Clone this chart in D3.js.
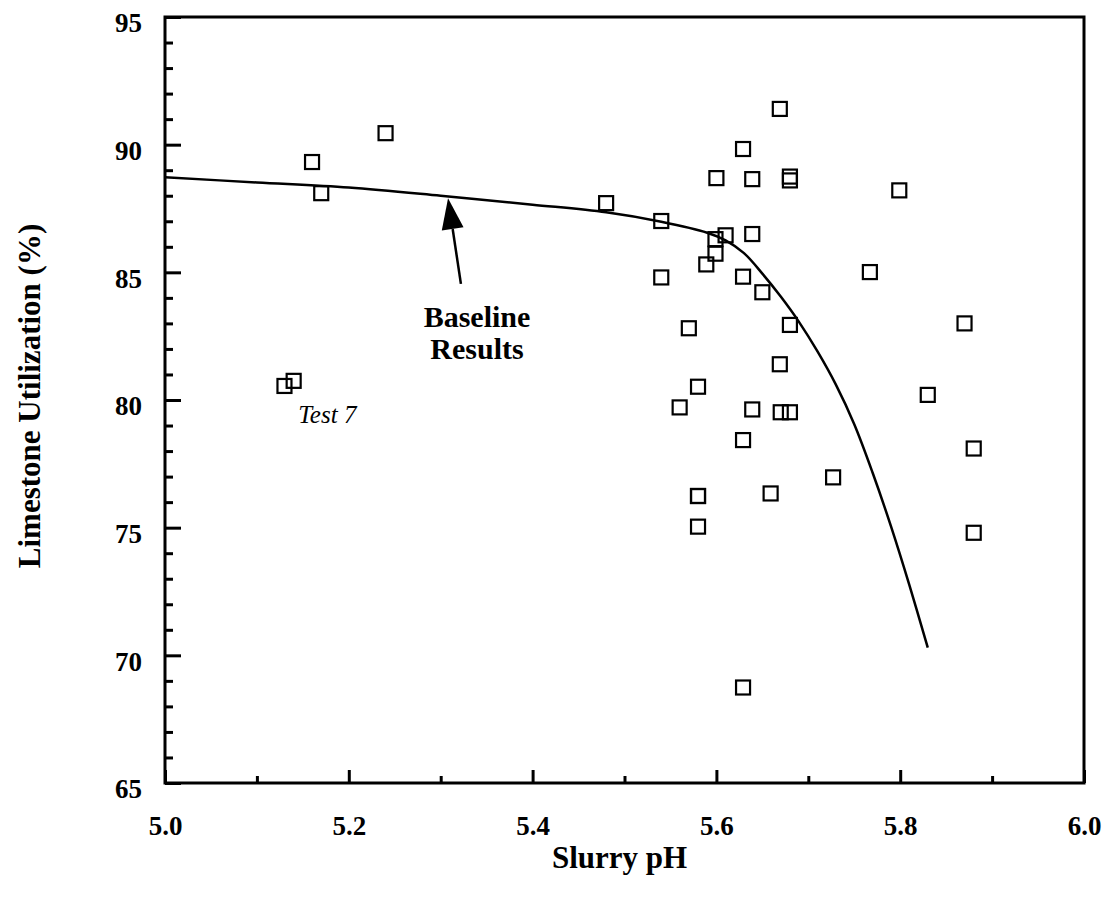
<!DOCTYPE html>
<html>
<head>
<meta charset="utf-8">
<script src="https://cdn.jsdelivr.net/npm/d3@7"></script>
<style>
  body { margin: 0; background: #fff; }
  text { font-family: "Liberation Serif", "Times New Roman", serif; fill: #000; }
</style>
</head>
<body>
<div id="graph"></div>
<script>
var w = 1108
var h = 910

// measured points (slurry pH, limestone utilization %)
var pointPH = [5.13, 5.14, 5.16, 5.17, 5.24, 5.48, 5.54, 5.54, 5.57, 5.56,
    5.58, 5.58, 5.58, 5.58, 5.589, 5.599, 5.599, 5.60, 5.61, 5.629,
    5.629, 5.629, 5.629, 5.639, 5.639, 5.639, 5.65, 5.659, 5.669, 5.669,
    5.67, 5.68, 5.68, 5.68, 5.68, 5.727, 5.767, 5.799, 5.83, 5.87,
    5.88, 5.88]
var pointUtil = [80.55, 80.75, 89.32, 88.1, 90.45, 87.71, 87.01, 84.8, 82.81, 79.71,
    80.52, 76.24, 75.04, 76.24, 85.31, 86.3, 85.73, 88.69, 86.45, 89.83,
    84.83, 78.43, 68.74, 88.65, 86.5, 79.63, 84.22, 76.34, 91.4, 81.4,
    79.52, 88.75, 88.6, 82.94, 79.52, 76.97, 85.01, 88.21, 80.2, 83.0,
    78.1, 74.8]

// fitted baseline curve
var curvePH = [5.00, 5.10, 5.20, 5.30, 5.40, 5.48, 5.54, 5.59, 5.61, 5.63,
    5.65, 5.67, 5.69, 5.71, 5.73, 5.75, 5.77, 5.79, 5.81, 5.83]
var curveUtil = [88.72, 88.52, 88.32, 88.0, 87.65, 87.35, 86.98, 86.55, 86.25, 85.75,
    84.95, 84.05, 83.05, 81.9, 80.6, 79.05, 77.15, 75.05, 72.75, 70.3]

var xTicks = [5.0, 5.2, 5.4, 5.6, 5.8, 6.0]
var xMinor = [5.1, 5.3, 5.5, 5.7, 5.9]
var yTicks = [65, 70, 75, 80, 85, 90, 95]
var yMinor = d3.range(66, 95).filter(function (d) { return d % 5 != 0 })

// plot box (window.top is reserved, so own names here)
var pLeft = 165, pTop = 17, pRight = 1084, pBottom = 783

var x = d3.scaleLinear().domain([5.0, 6.0]).range([pLeft, pRight])
var y = d3.scaleLinear().domain([65, 95]).range([pBottom, pTop])

var svg = d3.select("#graph").append("svg")
    .attr("width", w)
    .attr("height", h)

//minor ticks first, no labels
svg.append("g")
    .attr("transform", "translate(0," + pBottom + ")")
    .call(d3.axisBottom(x).tickValues(xMinor).tickSize(-7).tickFormat(""))
    .call(function (g) { g.select(".domain").remove() })
    .selectAll("line").attr("stroke-width", 3)

svg.append("g")
    .attr("transform", "translate(" + pLeft + ",0)")
    .call(d3.axisLeft(y).tickValues(yMinor).tickSize(-8).tickFormat(""))
    .call(function (g) { g.select(".domain").remove() })
    .selectAll("line").attr("stroke-width", 3)

//major ticks with labels
var xAxis = svg.append("g")
    .attr("transform", "translate(0," + pBottom + ")")
    .call(d3.axisBottom(x).tickValues(xTicks).tickSize(-13).tickFormat(d3.format(".1f")))
xAxis.select(".domain").remove()
xAxis.selectAll("line").attr("stroke-width", 3)
xAxis.selectAll("text")
    .attr("y", 52)
    .attr("dy", 0)
    .style("font-size", "27px")
    .style("font-weight", "bold")
    .style("font-family", "Liberation Serif")

var yAxis = svg.append("g")
    .attr("transform", "translate(" + pLeft + ",0)")
    .call(d3.axisLeft(y).tickValues(yTicks).tickSize(-16).tickFormat(d3.format("d")))
yAxis.select(".domain").remove()
yAxis.selectAll("line").attr("stroke-width", 3)
yAxis.selectAll("text")
    .attr("x", -23)
    .attr("dy", "0.55em")
    .style("font-size", "27px")
    .style("font-weight", "bold")
    .style("font-family", "Liberation Serif")

// frame around the plot
svg.append("rect")
    .attr("x", pLeft)
    .attr("y", pTop)
    .attr("width", pRight - pLeft)
    .attr("height", pBottom - pTop)
    .attr("fill", "none")
    .attr("stroke", "#000")
    .attr("stroke-width", 3)

// baseline curve
var line = d3.line()
    .x(function (d, i) { return x(curvePH[i]) })
    .y(function (d, i) { return y(curveUtil[i]) })
    .curve(d3.curveCatmullRom)

svg.append("path")
    .datum(curvePH)
    .attr("d", line)
    .attr("fill", "none")
    .attr("stroke", "#000")
    .attr("stroke-width", 2.5)

// open squares
svg.append("g").selectAll("rect")
    .data(pointPH)
    .enter().append("rect")
    .attr("x", function (d) { return x(d) - 7 })
    .attr("y", function (d, i) { return y(pointUtil[i]) - 7 })
    .attr("width", 14)
    .attr("height", 14)
    .attr("fill", "none")
    .attr("stroke", "#000")
    .attr("stroke-width", 2.2)

// arrow pointing at the curve
var tail = [x(5.322), y(84.55)]
var tip = [x(5.308), y(87.9)]
var ang = Math.atan2(tip[1] - tail[1], tip[0] - tail[0])
var headLen = 31, headW = 11
var bx = tip[0] - headLen * Math.cos(ang), by = tip[1] - headLen * Math.sin(ang)

svg.append("line")
    .attr("x1", tail[0]).attr("y1", tail[1])
    .attr("x2", bx).attr("y2", by)
    .attr("stroke", "#000")
    .attr("stroke-width", 2.5)

svg.append("path")
    .attr("d", "M" + tip[0] + "," + tip[1] +
        "L" + (bx + headW * Math.sin(ang)) + "," + (by - headW * Math.cos(ang)) +
        "L" + (bx - headW * Math.sin(ang)) + "," + (by + headW * Math.cos(ang)) + "Z")
    .attr("fill", "#000")

// annotations
svg.append("text")
    .attr("x", x(5.3395)).attr("y", y(82.86))
    .attr("text-anchor", "middle")
    .style("font-size", "30px").style("font-weight", "bold")
    .text("Baseline")
svg.append("text")
    .attr("x", x(5.3395)).attr("y", y(81.62))
    .attr("text-anchor", "middle")
    .style("font-size", "30px").style("font-weight", "bold")
    .text("Results")

svg.append("text")
    .attr("x", x(5.145)).attr("y", y(79.08))
    .style("font-size", "25px").style("font-style", "italic")
    .text("Test 7")

// axis titles
svg.append("text")
    .attr("x", (pLeft + pRight) / 2 - 5)
    .attr("y", 868)
    .attr("text-anchor", "middle")
    .style("font-size", "31px").style("font-weight", "bold")
    .text("Slurry pH")

svg.append("text")
    .attr("transform", "translate(40," + 396 + ") rotate(-90)")
    .attr("text-anchor", "middle")
    .style("font-size", "31px").style("font-weight", "bold")
    .text("Limestone Utilization (%)")
</script>
</body>
</html>
